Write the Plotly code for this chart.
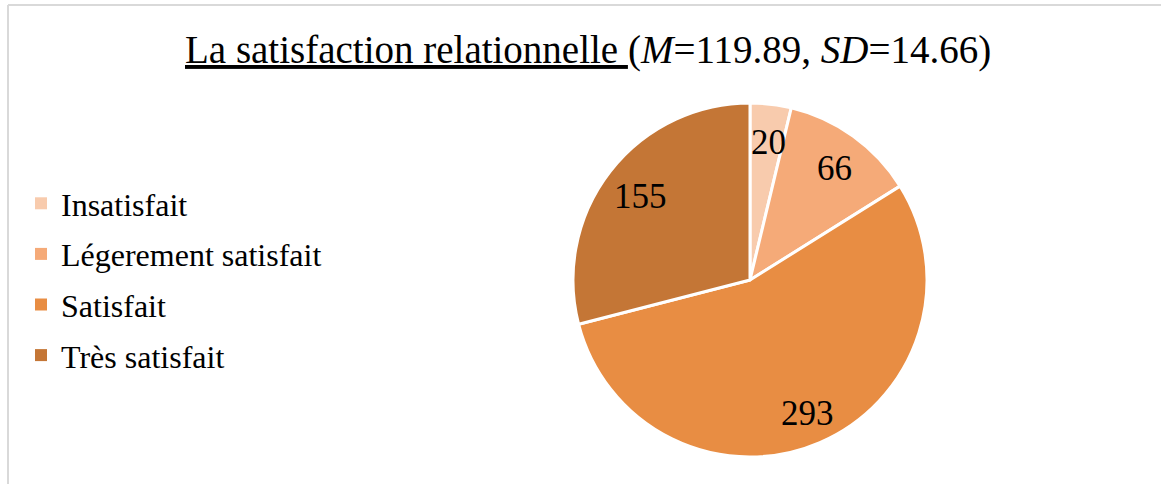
import math
import plotly.graph_objects as go

categories = ["Insatisfait", "Légerement satisfait", "Satisfait", "Très satisfait"]
counts = [20, 66, 293, 155]
colors = ["#F8CBAD", "#F5AA78", "#E88D43", "#C47636"]
title_main = "La satisfaction relationnelle "
title_stats = "(<i>M</i>=119.89, <i>SD</i>=14.66)"

W, H = 1161, 484
cx, cy, R = 750, 280, 177  # pie centre / radius in pixels
FONT = "Liberation Serif"

fig = go.Figure()
fig.add_trace(go.Pie(
    labels=categories,
    values=counts,
    sort=False,
    direction="clockwise",
    rotation=0,
    marker=dict(colors=colors, line=dict(color="white", width=3)),
    textinfo="none",
    hoverinfo="label+value",
    showlegend=False,
    domain=dict(x=[(cx - R) / W, (cx + R) / W], y=[(H - cy - R) / H, (H - cy + R) / H]),
))

# legend entries (one group per category so spacing can be tuned)
for i, (cat, col) in enumerate(zip(categories, colors)):
    fig.add_trace(go.Scatter(
        x=[None], y=[None], mode="markers", name=cat,
        legendgroup=f"g{i}",
        marker=dict(symbol="square", size=12, color=col),
    ))

# value labels placed at ~0.8 of the radius along each slice's mid-angle
total = sum(counts)
cum = 0
annotations = []
for v in counts:
    mid = (cum + v / 2) / total * 2 * math.pi
    cum += v
    r = 0.8 * R
    px = cx + r * math.sin(mid)
    py = cy - r * math.cos(mid)
    annotations.append(dict(
        x=px / W, y=1 - py / H, xref="paper", yref="paper",
        text=str(v), showarrow=False,
        font=dict(family=FONT, size=35, color="black"),
        xanchor="center", yanchor="middle", xshift=2, yshift=-3,
    ))

annotations.append(dict(
    x=588 / W, y=1 - 50 / H, xref="paper", yref="paper",
    text="<u>" + title_main + "</u>" + title_stats,
    showarrow=False, xanchor="center", yanchor="middle",
    font=dict(family=FONT, size=39, color="black"),
))

fig.update_layout(
    width=W, height=H,
    margin=dict(l=0, r=0, t=0, b=0),
    paper_bgcolor="white",
    plot_bgcolor="white",
    showlegend=True,
    xaxis=dict(visible=False),
    yaxis=dict(visible=False),
    legend=dict(
        x=21 / W, y=1 - 176 / H, xanchor="left", yanchor="top",
        font=dict(family=FONT, size=32, color="black"),
        bgcolor="rgba(0,0,0,0)",
        itemclick=False,
        tracegroupgap=6,
    ),
    annotations=annotations,
    shapes=[
        dict(type="line", xref="paper", yref="paper", x0=8 / W, x1=1, y0=1 - 5 / H, y1=1 - 5 / H,
             line=dict(color="#D9D9D9", width=2)),
        dict(type="line", xref="paper", yref="paper", x0=8 / W, x1=8 / W, y0=0, y1=1 - 5 / H,
             line=dict(color="#D9D9D9", width=2)),
    ],
)

fig.write_html("out.html", config={"displayModeBar": False},
               post_script="document.body.style.margin='0';")
